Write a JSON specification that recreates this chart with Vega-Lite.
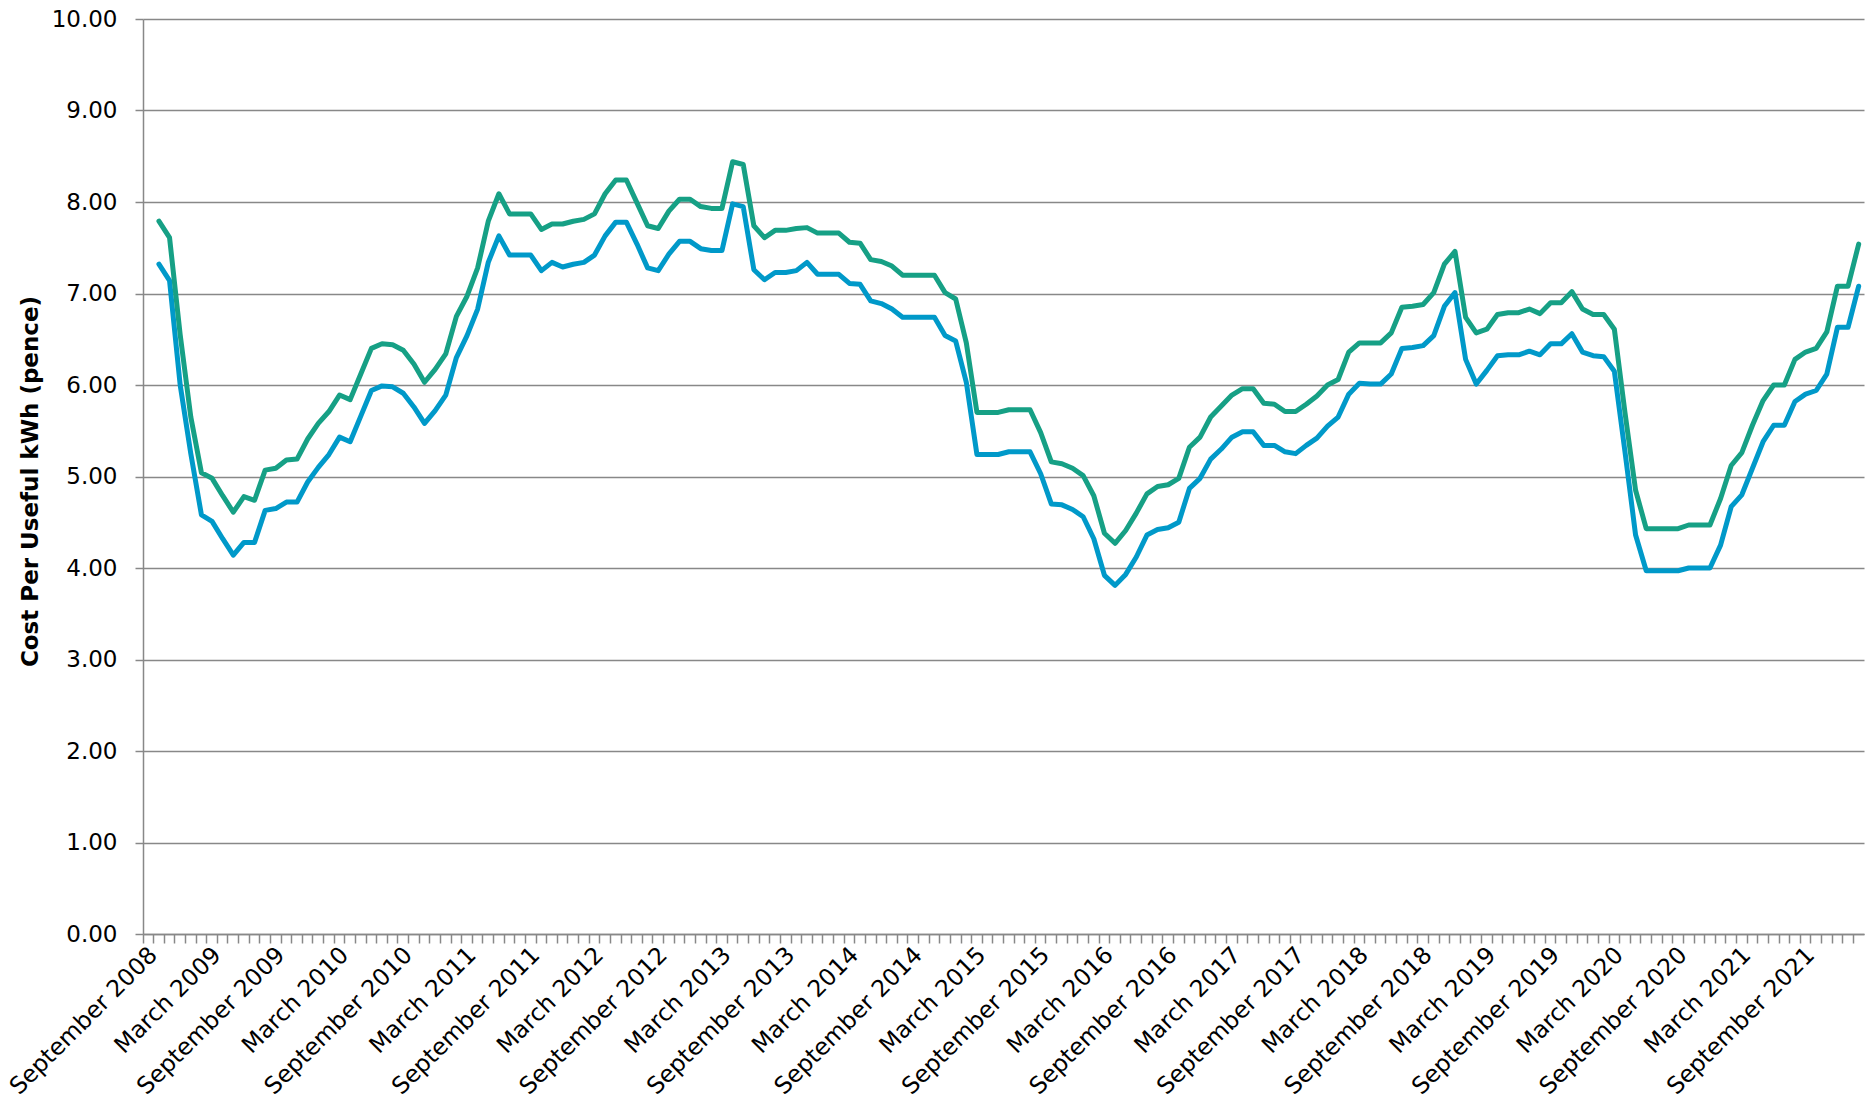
{
  "$schema": "https://vega.github.io/schema/vega-lite/v6.json",
  "width": 1721,
  "height": 915,
  "autosize": {"type": "none"},
  "padding": {"left": 143, "top": 19, "right": 5, "bottom": 180},
  "background": "white",
  "config": {"view": {"stroke": null}, "font": "DejaVu Sans"},
  "data": {"values": [
    {"m": "October 2008", "blue": 7.32, "green": 7.79},
    {"m": "November 2008", "blue": 7.14, "green": 7.61},
    {"m": "December 2008", "blue": 6.0, "green": 6.55},
    {"m": "January 2009", "blue": 5.25, "green": 5.65},
    {"m": "February 2009", "blue": 4.58, "green": 5.04},
    {"m": "March 2009", "blue": 4.51, "green": 4.98},
    {"m": "April 2009", "blue": 4.32, "green": 4.79},
    {"m": "May 2009", "blue": 4.14, "green": 4.61},
    {"m": "June 2009", "blue": 4.28, "green": 4.78},
    {"m": "July 2009", "blue": 4.28, "green": 4.74},
    {"m": "August 2009", "blue": 4.63, "green": 5.07},
    {"m": "September 2009", "blue": 4.65, "green": 5.09},
    {"m": "October 2009", "blue": 4.72, "green": 5.18},
    {"m": "November 2009", "blue": 4.72, "green": 5.19},
    {"m": "December 2009", "blue": 4.94, "green": 5.41},
    {"m": "January 2010", "blue": 5.10, "green": 5.58},
    {"m": "February 2010", "blue": 5.24, "green": 5.71},
    {"m": "March 2010", "blue": 5.43, "green": 5.89},
    {"m": "April 2010", "blue": 5.38, "green": 5.84},
    {"m": "May 2010", "blue": 5.66, "green": 6.12},
    {"m": "June 2010", "blue": 5.94, "green": 6.40},
    {"m": "July 2010", "blue": 5.99, "green": 6.45},
    {"m": "August 2010", "blue": 5.98, "green": 6.44},
    {"m": "September 2010", "blue": 5.91, "green": 6.38},
    {"m": "October 2010", "blue": 5.76, "green": 6.23},
    {"m": "November 2010", "blue": 5.58, "green": 6.03},
    {"m": "December 2010", "blue": 5.72, "green": 6.17},
    {"m": "January 2011", "blue": 5.89, "green": 6.34},
    {"m": "February 2011", "blue": 6.30, "green": 6.75},
    {"m": "March 2011", "blue": 6.54, "green": 6.97},
    {"m": "April 2011", "blue": 6.83, "green": 7.28},
    {"m": "May 2011", "blue": 7.34, "green": 7.79},
    {"m": "June 2011", "blue": 7.63, "green": 8.09},
    {"m": "July 2011", "blue": 7.42, "green": 7.87},
    {"m": "August 2011", "blue": 7.42, "green": 7.87},
    {"m": "September 2011", "blue": 7.42, "green": 7.87},
    {"m": "October 2011", "blue": 7.25, "green": 7.70},
    {"m": "November 2011", "blue": 7.34, "green": 7.76},
    {"m": "December 2011", "blue": 7.29, "green": 7.76},
    {"m": "January 2012", "blue": 7.32, "green": 7.79},
    {"m": "February 2012", "blue": 7.34, "green": 7.81},
    {"m": "March 2012", "blue": 7.42, "green": 7.87},
    {"m": "April 2012", "blue": 7.63, "green": 8.09},
    {"m": "May 2012", "blue": 7.78, "green": 8.24},
    {"m": "June 2012", "blue": 7.78, "green": 8.24},
    {"m": "July 2012", "blue": 7.54, "green": 7.99},
    {"m": "August 2012", "blue": 7.28, "green": 7.74},
    {"m": "September 2012", "blue": 7.25, "green": 7.71},
    {"m": "October 2012", "blue": 7.43, "green": 7.90},
    {"m": "November 2012", "blue": 7.57, "green": 8.03},
    {"m": "December 2012", "blue": 7.57, "green": 8.03},
    {"m": "January 2013", "blue": 7.49, "green": 7.95},
    {"m": "February 2013", "blue": 7.47, "green": 7.93},
    {"m": "March 2013", "blue": 7.47, "green": 7.93},
    {"m": "April 2013", "blue": 7.98, "green": 8.44},
    {"m": "May 2013", "blue": 7.95, "green": 8.41},
    {"m": "June 2013", "blue": 7.26, "green": 7.74},
    {"m": "July 2013", "blue": 7.15, "green": 7.61},
    {"m": "August 2013", "blue": 7.23, "green": 7.69},
    {"m": "September 2013", "blue": 7.23, "green": 7.69},
    {"m": "October 2013", "blue": 7.25, "green": 7.71},
    {"m": "November 2013", "blue": 7.34, "green": 7.72},
    {"m": "December 2013", "blue": 7.21, "green": 7.66},
    {"m": "January 2014", "blue": 7.21, "green": 7.66},
    {"m": "February 2014", "blue": 7.21, "green": 7.66},
    {"m": "March 2014", "blue": 7.11, "green": 7.56},
    {"m": "April 2014", "blue": 7.10, "green": 7.55},
    {"m": "May 2014", "blue": 6.92, "green": 7.37},
    {"m": "June 2014", "blue": 6.89, "green": 7.35},
    {"m": "July 2014", "blue": 6.83, "green": 7.30},
    {"m": "August 2014", "blue": 6.74, "green": 7.20},
    {"m": "September 2014", "blue": 6.74, "green": 7.20},
    {"m": "October 2014", "blue": 6.74, "green": 7.20},
    {"m": "November 2014", "blue": 6.74, "green": 7.20},
    {"m": "December 2014", "blue": 6.54, "green": 7.01},
    {"m": "January 2015", "blue": 6.48, "green": 6.94},
    {"m": "February 2015", "blue": 6.03, "green": 6.46},
    {"m": "March 2015", "blue": 5.24, "green": 5.70},
    {"m": "April 2015", "blue": 5.24, "green": 5.70},
    {"m": "May 2015", "blue": 5.24, "green": 5.70},
    {"m": "June 2015", "blue": 5.27, "green": 5.73},
    {"m": "July 2015", "blue": 5.27, "green": 5.73},
    {"m": "August 2015", "blue": 5.27, "green": 5.73},
    {"m": "September 2015", "blue": 5.03, "green": 5.48},
    {"m": "October 2015", "blue": 4.70, "green": 5.16},
    {"m": "November 2015", "blue": 4.69, "green": 5.14},
    {"m": "December 2015", "blue": 4.64, "green": 5.09},
    {"m": "January 2016", "blue": 4.56, "green": 5.01},
    {"m": "February 2016", "blue": 4.32, "green": 4.79},
    {"m": "March 2016", "blue": 3.92, "green": 4.38},
    {"m": "April 2016", "blue": 3.81, "green": 4.27},
    {"m": "May 2016", "blue": 3.93, "green": 4.41},
    {"m": "June 2016", "blue": 4.12, "green": 4.60},
    {"m": "July 2016", "blue": 4.36, "green": 4.81},
    {"m": "August 2016", "blue": 4.42, "green": 4.89},
    {"m": "September 2016", "blue": 4.44, "green": 4.91},
    {"m": "October 2016", "blue": 4.50, "green": 4.98},
    {"m": "November 2016", "blue": 4.87, "green": 5.32},
    {"m": "December 2016", "blue": 4.98, "green": 5.43},
    {"m": "January 2017", "blue": 5.19, "green": 5.65},
    {"m": "February 2017", "blue": 5.30, "green": 5.77},
    {"m": "March 2017", "blue": 5.43, "green": 5.89},
    {"m": "April 2017", "blue": 5.49, "green": 5.96},
    {"m": "May 2017", "blue": 5.49, "green": 5.96},
    {"m": "June 2017", "blue": 5.34, "green": 5.80},
    {"m": "July 2017", "blue": 5.34, "green": 5.79},
    {"m": "August 2017", "blue": 5.27, "green": 5.71},
    {"m": "September 2017", "blue": 5.25, "green": 5.71},
    {"m": "October 2017", "blue": 5.34, "green": 5.79},
    {"m": "November 2017", "blue": 5.42, "green": 5.88},
    {"m": "December 2017", "blue": 5.55, "green": 6.00},
    {"m": "January 2018", "blue": 5.65, "green": 6.06},
    {"m": "February 2018", "blue": 5.90, "green": 6.36},
    {"m": "March 2018", "blue": 6.02, "green": 6.46},
    {"m": "April 2018", "blue": 6.01, "green": 6.46},
    {"m": "May 2018", "blue": 6.01, "green": 6.46},
    {"m": "June 2018", "blue": 6.12, "green": 6.57},
    {"m": "July 2018", "blue": 6.40, "green": 6.85},
    {"m": "August 2018", "blue": 6.41, "green": 6.86},
    {"m": "September 2018", "blue": 6.43, "green": 6.88},
    {"m": "October 2018", "blue": 6.54, "green": 7.01},
    {"m": "November 2018", "blue": 6.86, "green": 7.32},
    {"m": "December 2018", "blue": 7.01, "green": 7.46},
    {"m": "January 2019", "blue": 6.28, "green": 6.74},
    {"m": "February 2019", "blue": 6.01, "green": 6.57},
    {"m": "March 2019", "blue": 6.16, "green": 6.61},
    {"m": "April 2019", "blue": 6.32, "green": 6.77},
    {"m": "May 2019", "blue": 6.33, "green": 6.79},
    {"m": "June 2019", "blue": 6.33, "green": 6.79},
    {"m": "July 2019", "blue": 6.37, "green": 6.83},
    {"m": "August 2019", "blue": 6.33, "green": 6.78},
    {"m": "September 2019", "blue": 6.45, "green": 6.90},
    {"m": "October 2019", "blue": 6.45, "green": 6.90},
    {"m": "November 2019", "blue": 6.56, "green": 7.02},
    {"m": "December 2019", "blue": 6.36, "green": 6.83},
    {"m": "January 2020", "blue": 6.32, "green": 6.77},
    {"m": "February 2020", "blue": 6.31, "green": 6.77},
    {"m": "March 2020", "blue": 6.15, "green": 6.61},
    {"m": "April 2020", "blue": 5.27, "green": 5.70},
    {"m": "May 2020", "blue": 4.36, "green": 4.85},
    {"m": "June 2020", "blue": 3.97, "green": 4.43},
    {"m": "July 2020", "blue": 3.97, "green": 4.43},
    {"m": "August 2020", "blue": 3.97, "green": 4.43},
    {"m": "September 2020", "blue": 3.97, "green": 4.43},
    {"m": "October 2020", "blue": 4.00, "green": 4.47},
    {"m": "November 2020", "blue": 4.00, "green": 4.47},
    {"m": "December 2020", "blue": 4.00, "green": 4.47},
    {"m": "January 2021", "blue": 4.25, "green": 4.76},
    {"m": "February 2021", "blue": 4.67, "green": 5.12},
    {"m": "March 2021", "blue": 4.80, "green": 5.26},
    {"m": "April 2021", "blue": 5.09, "green": 5.56},
    {"m": "May 2021", "blue": 5.38, "green": 5.83},
    {"m": "June 2021", "blue": 5.56, "green": 6.00},
    {"m": "July 2021", "blue": 5.56, "green": 6.00},
    {"m": "August 2021", "blue": 5.82, "green": 6.28},
    {"m": "September 2021", "blue": 5.90, "green": 6.36},
    {"m": "October 2021", "blue": 5.94, "green": 6.40},
    {"m": "November 2021", "blue": 6.12, "green": 6.58},
    {"m": "December 2021", "blue": 6.63, "green": 7.08},
    {"m": "January 2022", "blue": 6.63, "green": 7.08},
    {"m": "February 2022", "blue": 7.08, "green": 7.54}
  ]},
  "encoding": {
    "x": {
      "field": "m",
      "type": "ordinal",
      "bandPosition": 0.5,
      "sort": null,
      "scale": {
        "type": "band",
        "paddingInner": 0,
        "paddingOuter": 0,
        "domain": [
          "September 2008", "October 2008", "November 2008", "December 2008",
          "January 2009", "February 2009", "March 2009", "April 2009", "May 2009", "June 2009", "July 2009", "August 2009", "September 2009", "October 2009", "November 2009", "December 2009",
          "January 2010", "February 2010", "March 2010", "April 2010", "May 2010", "June 2010", "July 2010", "August 2010", "September 2010", "October 2010", "November 2010", "December 2010",
          "January 2011", "February 2011", "March 2011", "April 2011", "May 2011", "June 2011", "July 2011", "August 2011", "September 2011", "October 2011", "November 2011", "December 2011",
          "January 2012", "February 2012", "March 2012", "April 2012", "May 2012", "June 2012", "July 2012", "August 2012", "September 2012", "October 2012", "November 2012", "December 2012",
          "January 2013", "February 2013", "March 2013", "April 2013", "May 2013", "June 2013", "July 2013", "August 2013", "September 2013", "October 2013", "November 2013", "December 2013",
          "January 2014", "February 2014", "March 2014", "April 2014", "May 2014", "June 2014", "July 2014", "August 2014", "September 2014", "October 2014", "November 2014", "December 2014",
          "January 2015", "February 2015", "March 2015", "April 2015", "May 2015", "June 2015", "July 2015", "August 2015", "September 2015", "October 2015", "November 2015", "December 2015",
          "January 2016", "February 2016", "March 2016", "April 2016", "May 2016", "June 2016", "July 2016", "August 2016", "September 2016", "October 2016", "November 2016", "December 2016",
          "January 2017", "February 2017", "March 2017", "April 2017", "May 2017", "June 2017", "July 2017", "August 2017", "September 2017", "October 2017", "November 2017", "December 2017",
          "January 2018", "February 2018", "March 2018", "April 2018", "May 2018", "June 2018", "July 2018", "August 2018", "September 2018", "October 2018", "November 2018", "December 2018",
          "January 2019", "February 2019", "March 2019", "April 2019", "May 2019", "June 2019", "July 2019", "August 2019", "September 2019", "October 2019", "November 2019", "December 2019",
          "January 2020", "February 2020", "March 2020", "April 2020", "May 2020", "June 2020", "July 2020", "August 2020", "September 2020", "October 2020", "November 2020", "December 2020",
          "January 2021", "February 2021", "March 2021", "April 2021", "May 2021", "June 2021", "July 2021", "August 2021", "September 2021", "October 2021", "November 2021", "December 2021",
          "January 2022", "February 2022"
        ]
      },
      "axis": {
        "title": null,
        "bandPosition": 0,
        "labelOffset": 5.3,
        "labelAngle": -45,
        "labelAlign": "right",
        "labelBaseline": "middle",
        "labelExpr": "(indexof(datum.label, 'March') == 0 || indexof(datum.label, 'September') == 0) ? datum.label : ''",
        "labelOverlap": false,
        "labelBound": false,
        "labelLimit": 0,
        "labelFont": "DejaVu Sans",
        "labelFontSize": 23.5,
        "labelColor": "#000000",
        "labelPadding": 8,
        "tickSize": 9,
        "tickColor": "#888888",
        "tickWidth": 1.5,
        "domainColor": "#888888",
        "domainWidth": 1.5,
        "grid": false
      }
    }
  },
  "layer": [
    {
      "mark": {"type": "line", "color": "#0099c9", "strokeWidth": 5, "strokeJoin": "round", "strokeCap": "round"},
      "encoding": {
        "y": {
          "field": "blue",
          "type": "quantitative",
          "scale": {"domain": [0, 10], "nice": false, "zero": true},
          "axis": {
            "title": "Cost Per Useful kWh (pence)",
            "format": ".2f",
            "values": [0, 1, 2, 3, 4, 5, 6, 7, 8, 9, 10],
            "grid": true,
            "gridColor": "#888888",
            "gridWidth": 1.5,
            "domainColor": "#888888",
            "domainWidth": 1.5,
            "tickColor": "#888888",
            "tickWidth": 1.5,
            "tickSize": 8,
            "labelFont": "DejaVu Sans",
            "labelFontSize": 23,
            "labelColor": "#000000",
            "labelPadding": 18,
            "titleFont": "DejaVu Sans",
            "titleFontSize": 23,
            "titleFontWeight": "bold",
            "titleColor": "#000000",
            "titleLimit": 0,
            "titleX": -113,
            "titleY": 462,
            "titleAngle": -90,
            "titleAlign": "center",
            "titleBaseline": "middle"
          }
        }
      }
    },
    {
      "mark": {"type": "line", "color": "#16a085", "strokeWidth": 5, "strokeJoin": "round", "strokeCap": "round"},
      "encoding": {
        "y": {
          "field": "green",
          "type": "quantitative",
          "scale": {"domain": [0, 10], "nice": false, "zero": true},
          "axis": {
            "title": "Cost Per Useful kWh (pence)",
            "format": ".2f",
            "values": [0, 1, 2, 3, 4, 5, 6, 7, 8, 9, 10],
            "grid": true,
            "gridColor": "#888888",
            "gridWidth": 1.5,
            "domainColor": "#888888",
            "domainWidth": 1.5,
            "tickColor": "#888888",
            "tickWidth": 1.5,
            "tickSize": 8,
            "labelFont": "DejaVu Sans",
            "labelFontSize": 23,
            "labelColor": "#000000",
            "labelPadding": 18,
            "titleFont": "DejaVu Sans",
            "titleFontSize": 23,
            "titleFontWeight": "bold",
            "titleColor": "#000000",
            "titleLimit": 0,
            "titleX": -113,
            "titleY": 462,
            "titleAngle": -90,
            "titleAlign": "center",
            "titleBaseline": "middle"
          }
        }
      }
    }
  ]
}
